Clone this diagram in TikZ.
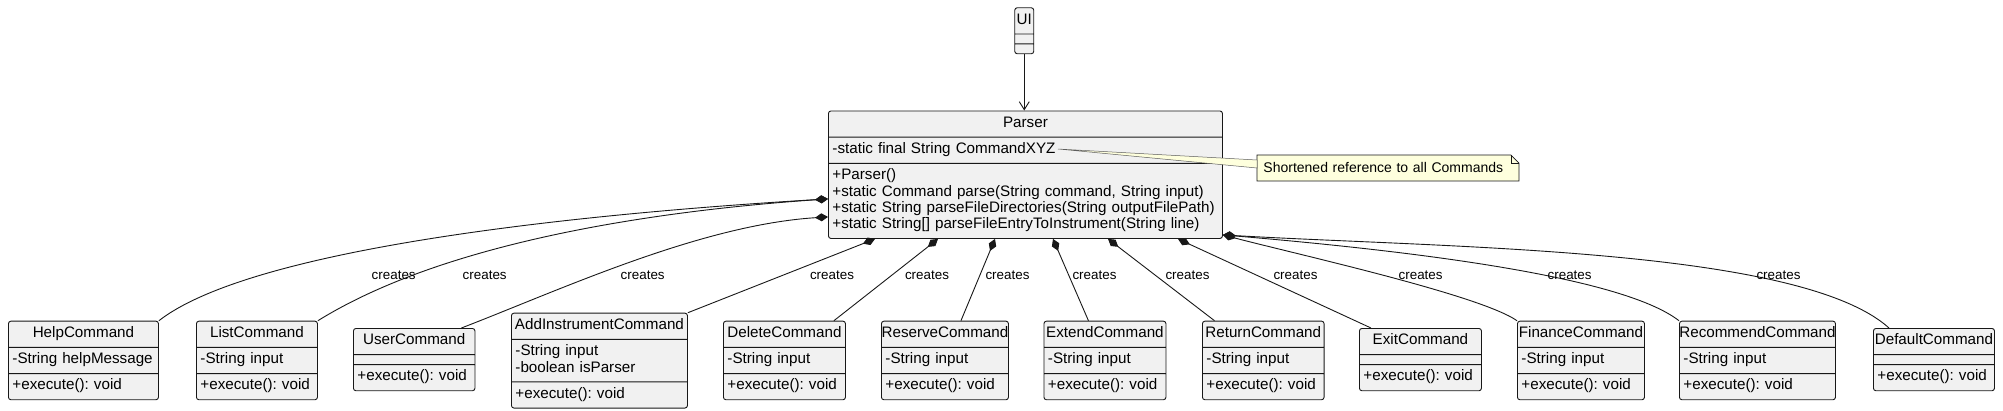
\documentclass[tikz,border=0pt]{standalone}
\usepackage{fontspec}
\setmainfont{Liberation Sans}
\usetikzlibrary{arrows.meta,positioning,shapes.multipart,backgrounds}
\definecolor{umlfill}{HTML}{F1F1F1}
\definecolor{umlline}{HTML}{181818}
\definecolor{umlnote}{HTML}{FEFFDD}
\newcommand{\classfont}{\fontsize{15.2}{16.3}\selectfont\frenchspacing}
\newcommand{\clstitle}[1]{\hbox to\hsize{\hss\strut#1\hss}}

\begin{document}
\begin{tikzpicture}[
  x=1pt,y=-1pt,
  line width=0.9pt,
  umlclass/.style={rectangle split,rectangle split parts=3,draw=umlline,fill=umlfill,
                   rounded corners=2.5pt,inner xsep=4pt,inner ysep=4.5pt,text width=#1,
                   align=left,font=\classfont,anchor=north west},
  notetext/.style={anchor=north west,minimum height=25pt,text width=249pt,inner xsep=6pt,
                   inner ysep=0pt,align=left,font=\fontsize{14}{16}\selectfont},
  creates/.style={font=\fontsize{13.4}{15}\selectfont,inner sep=1pt},
  compose/.style={draw=umlline,{Diamond[length=13pt,width=8pt]}-},
  uses/.style={draw=umlline,-{Straight Barb[length=8pt,width=10pt]}},
]
  \useasboundingbox (0,0) rectangle (2003,410);

  % UI and Parser
  \node[umlclass=15pt,inner xsep=2pt] (ui) at (1014.3,7.3)
    {\clstitle{UI}\nodepart{two}\nodepart{three}};
  \node[umlclass=386pt] (parser) at (828,110.5)
    {\clstitle{Parser}
     \nodepart{two}\strut-static final String CommandXYZ
     \nodepart{three}\strut+Parser()\\
     \strut+static Command parse(String command, String input)\\
     \strut+static String parseFileDirectories(String outputFilePath)\\
     \strut+static String[] parseFileEntryToInstrument(String line)};
  \draw[uses] (ui.south) -- (ui.south |- parser.north);

  % note on CommandXYZ
  \node[notetext] (note) at (1257,155) {Shortened reference to all Commands};
  \begin{scope}[on background layer]
    \draw[draw=umlline,fill=umlnote,line width=0.7pt]
      (note.north west) -- ([xshift=-8pt]note.north east) -- ([yshift=-8pt]note.north east)
      -- (note.south east) -- (note.south west) -- cycle;
  \end{scope}
  \draw[draw=umlline,line width=0.7pt] ([xshift=-8pt]note.north east) |- ([yshift=-8pt]note.north east);
  \coordinate (xyzend) at (1058,149);
  \draw[draw=umlline!70,fill=umlnote,line width=0.5pt]
    (xyzend) -- ([yshift=-5pt]note.north west) -- ([yshift=-13pt]note.north west) -- cycle;

  % command classes
  \node[umlclass=142pt] (help) at (8,320.7)
    {\clstitle{HelpCommand}\nodepart{two}\strut-String helpMessage\nodepart{three}\strut+execute(): void};
  \node[umlclass=113pt] (list) at (196,320.7)
    {\clstitle{ListCommand}\nodepart{two}\strut-String input\nodepart{three}\strut+execute(): void};
  \node[umlclass=113.5pt] (user) at (353,328)
    {\clstitle{UserCommand}\nodepart{two}\nodepart{three}\strut+execute(): void};
  \node[umlclass=168pt] (addinstr) at (511,312.7)
    {\clstitle{AddInstrumentCommand}\nodepart{two}\strut-String input\\\strut-boolean isParser
     \nodepart{three}\strut+execute(): void};
  \node[umlclass=114pt] (delete) at (723,320.7)
    {\clstitle{DeleteCommand}\nodepart{two}\strut-String input\nodepart{three}\strut+execute(): void};
  \node[umlclass=119pt] (reserve) at (881,320.7)
    {\clstitle{ReserveCommand}\nodepart{two}\strut-String input\nodepart{three}\strut+execute(): void};
  \node[umlclass=114pt] (extend) at (1043.5,320.7)
    {\clstitle{ExtendCommand}\nodepart{two}\strut-String input\nodepart{three}\strut+execute(): void};
  \node[umlclass=113.6pt] (return) at (1202,320.7)
    {\clstitle{ReturnCommand}\nodepart{two}\strut-String input\nodepart{three}\strut+execute(): void};
  \node[umlclass=114pt] (exit) at (1359,328)
    {\clstitle{ExitCommand}\nodepart{two}\nodepart{three}\strut+execute(): void};
  \node[umlclass=119pt] (finance) at (1517,320.7)
    {\clstitle{FinanceCommand}\nodepart{two}\strut-String input\nodepart{three}\strut+execute(): void};
  \node[umlclass=148pt] (recommend) at (1679,320.7)
    {\clstitle{RecommendCommand}\nodepart{two}\strut-String input\nodepart{three}\strut+execute(): void};
  \node[umlclass=113pt] (default) at (1873,328)
    {\clstitle{DefaultCommand}\nodepart{two}\nodepart{three}\strut+execute(): void};

  % composition edges
  \draw[compose] ([yshift=40pt]parser.south west) .. controls (560,215) and (250,250) .. (help.north east);
  \draw[compose] ([yshift=40pt]parser.south west) .. controls (640,212) and (440,245) .. (list.north east);
  \draw[compose] ([yshift=22pt]parser.south west) .. controls (700,225) and (560,290) .. ([xshift=-14pt]user.north east);
  \draw[compose] ([xshift=47pt]parser.south west) -- (addinstr.north east);
  \draw[compose] ([xshift=110pt]parser.south west) -- ([xshift=-12pt]delete.north east);
  \draw[compose] ([xshift=167pt]parser.south west) -- ([xshift=16pt]reserve.north);
  \draw[compose] ([xshift=225pt]parser.south west) -- ([xshift=-16.5pt]extend.north);
  \draw[compose] ([xshift=280pt]parser.south west) -- ([xshift=12.5pt]return.north west);
  \draw[compose] ([xshift=350pt]parser.south west) -- ([xshift=12pt]exit.north west);
  \draw[compose] ([yshift=4pt]parser.south east) .. controls (1300,255) and (1480,295) .. (finance.north west);
  \draw[compose] ([yshift=4pt]parser.south east) .. controls (1400,250) and (1620,275) .. (recommend.north west);
  \draw[compose] ([yshift=4pt]parser.south east) .. controls (1450,248) and (1800,248) .. ([xshift=16pt]default.north west);

  % edge labels
  \node[creates] (lhelp) at (393.7,275) {creates};
  \node[creates] (llist) at (484.7,275) {creates};
  \node[creates] (luser) at (642.7,275) {creates};
  \node[creates] (laddinstr) at (832,275) {creates};
  \node[creates] (ldelete) at (927,275) {creates};
  \node[creates] (lreserve) at (1007.5,275) {creates};
  \node[creates] (lextend) at (1094.5,275) {creates};
  \node[creates] (lreturn) at (1187.5,275) {creates};
  \node[creates] (lexit) at (1295.5,275) {creates};
  \node[creates] (lfinance) at (1420.6,275) {creates};
  \node[creates] (lrecommend) at (1569.6,275) {creates};
  \node[creates] (ldefault) at (1778.5,275) {creates};
\end{tikzpicture}
\end{document}
